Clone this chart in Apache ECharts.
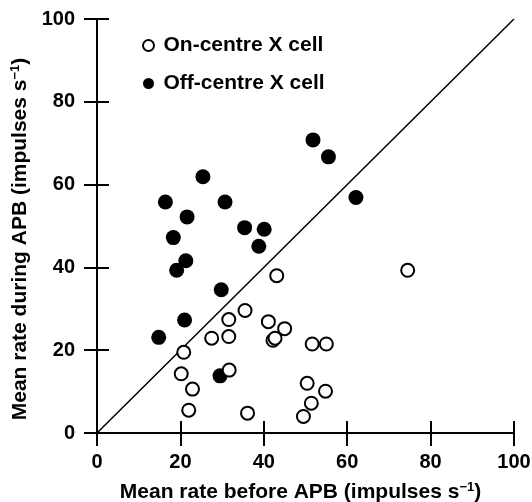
<!DOCTYPE html>
<html>
<head>
<meta charset="utf-8">
<script src="https://cdn.jsdelivr.net/npm/echarts@6/dist/echarts.min.js"></script>
<style>
  html, body { margin: 0; padding: 0; background: #fff; }
  #chart { width: 532px; height: 502px; }
</style>
</head>
<body>
<div id="chart"></div>
<script>
'use strict';

// [before APB, during APB] in impulses/s
const onCentre = [
    [20.8, 19.5], [20.2, 14.3], [22.9, 10.6], [22.0, 5.5], [27.5, 22.9],
    [31.6, 27.4], [31.6, 23.3], [31.7, 15.2], [35.5, 29.6], [36.1, 4.8],
    [41.1, 26.9], [43.1, 38.0], [42.2, 22.4], [42.7, 22.9], [45.0, 25.2],
    [51.6, 21.5], [55.0, 21.5], [50.4, 12.0], [54.8, 10.1], [51.4, 7.2],
    [49.5, 4.0], [74.5, 39.3]
];
const offCentre = [
    [14.8, 23.1], [16.4, 55.8], [18.3, 47.2], [19.1, 39.3], [21.3, 41.6],
    [21.6, 52.2], [21.0, 27.3], [25.4, 61.9], [29.8, 34.6], [29.5, 13.8],
    [30.7, 55.8], [35.4, 49.6], [40.1, 49.2], [38.8, 45.1], [51.8, 70.8],
    [55.5, 66.7], [62.1, 56.9]
];
const identityLine = [[0, 0], [100, 100]];
const seriesNames = ['On-centre X cell', 'Off-centre X cell'];

const font = '"Liberation Sans", Arial, sans-serif';
const txt = {color: '#000', fontFamily: font, fontWeight: 'bold', fontSize: 21};
const tickTxt = {color: '#000', fontFamily: font, fontWeight: 'bold', fontSize: 20};

function nameStyle(pad) {
    return Object.assign({}, txt, {
        padding: pad,
        rich: {sup: {fontFamily: font, fontWeight: 'bold', fontSize: 13, color: '#000', verticalAlign: 'top', padding: [0, 0, 9, 0]}}
    });
}

function mainAxis(extra) {
    return Object.assign({
        type: 'value', min: 0, max: 100, interval: 20,
        axisLine: {show: true, onZero: false, lineStyle: {color: '#000', width: 2}},
        axisTick: {show: true, inside: false, length: 13, lineStyle: {color: '#000', width: 2}},
        splitLine: {show: false}
    }, extra);
}

// second copy of each axis carries the inner half of the ticks
function innerTicks(extra) {
    return Object.assign({
        type: 'value', min: 0, max: 100, interval: 20,
        axisLine: {show: false},
        axisTick: {show: true, inside: true, length: 12, lineStyle: {color: '#000', width: 2}},
        axisLabel: {show: false},
        splitLine: {show: false}
    }, extra);
}

const chart = echarts.init(document.getElementById('chart'));
chart.setOption({
    animation: false,
    backgroundColor: '#fff',
    grid: {left: 97, right: 18, top: 19, bottom: 69, outerBoundsMode: 'none'},
    legend: {
        orient: 'vertical', left: 137, top: 30, itemGap: 17,
        itemWidth: 20, itemHeight: 11,
        textStyle: txt,
        data: seriesNames
    },
    xAxis: [
        mainAxis({
            name: 'Mean rate before APB (impulses s{sup|−1})', nameLocation: 'middle', nameGap: 48,
            nameTextStyle: nameStyle([0, 10, 0, 0]),
            axisLabel: Object.assign({margin: 19}, tickTxt)
        }),
        innerTicks({position: 'bottom'})
    ],
    yAxis: [
        mainAxis({
            name: 'Mean rate during APB (impulses s{sup|−1})', nameLocation: 'middle', nameGap: 66,
            nameTextStyle: nameStyle([0, 26, 0, 0]),
            axisLabel: Object.assign({margin: 22}, tickTxt)
        }),
        innerTicks({position: 'left'})
    ],
    series: [
        {
            type: 'line', data: identityLine, symbol: 'none', silent: true,
            lineStyle: {color: '#000', width: 1.5}, z: 1
        },
        {
            name: seriesNames[1], type: 'scatter', data: offCentre, symbolSize: 15,
            itemStyle: {color: '#000', opacity: 1}, z: 2
        },
        {
            name: seriesNames[0], type: 'scatter', data: onCentre, symbolSize: 13,
            itemStyle: {color: '#fff', borderColor: '#000', borderWidth: 2, opacity: 1}, z: 3
        }
    ]
});
</script>
</body>
</html>
